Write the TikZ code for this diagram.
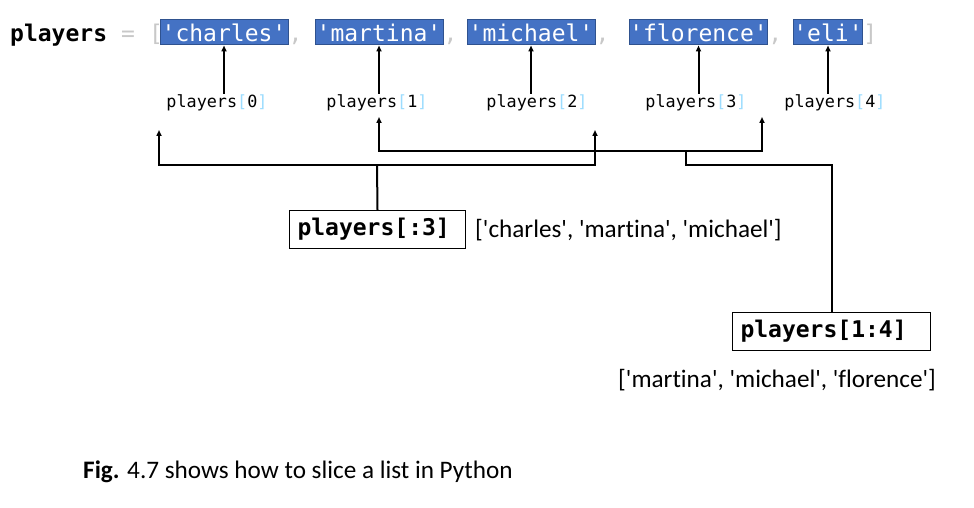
\documentclass[tikz,border=0pt]{standalone}
\usepackage{fontspec}
\setmainfont{Carlito}[Ligatures={TeXOff,NoCommon}]
\setmonofont{DejaVu Sans Mono}
\usetikzlibrary{arrows.meta}

\definecolor{listblue}{RGB}{68,114,196}
\definecolor{listedge}{RGB}{47,82,143}
\definecolor{punctgray}{RGB}{200,200,200}
\definecolor{idxblue}{RGB}{156,220,254}

% players[i] with the brackets tinted
\newcommand{\playeridx}[1]{players\textcolor{idxblue}{[}#1\textcolor{idxblue}{]}}

\begin{document}
\begin{tikzpicture}[x=1pt,y=-1pt,
  every node/.style={inner sep=0pt},
  code/.style={font=\fontsize{23}{23}\selectfont\ttfamily},
  listitem/.style={code, text=white, fill=listblue, draw=listedge, line width=1pt,
    anchor=base, text height=22pt, text depth=3pt, minimum width=#1},
  punct/.style={code, text=punctgray, anchor=base},
  idxlabel/.style={font=\fontsize{16.8}{16.8}\selectfont\ttfamily, anchor=base,
    text height=14pt, text depth=4pt},
  slicebox/.style={font=\fontsize{23}{23}\selectfont\ttfamily\bfseries, draw=black,
    line width=1pt, fill=white, anchor=north west, align=left, inner xsep=8pt,
    minimum height=38pt, text width=#1},
  result/.style={font=\fontsize{25.2}{25.2}\selectfont, anchor=west},
  tip/.style={line width=2pt, -{Triangle[length=6pt,width=5pt]}},
  bothtips/.style={line width=2pt, {Triangle[length=6pt,width=5pt]}-{Triangle[length=6pt,width=5pt]}},
  plain/.style={line width=2pt}
]
\useasboundingbox (0,0) rectangle (974,508);

% the list literal
\node[code, font=\fontsize{23}{23}\selectfont\ttfamily\bfseries, anchor=base west] (name) at (10,42) {players};
\node[punct] (eq) at (128,42) {=};
\node[punct] (open) at (156,42) {[};
\node[listitem=128pt] (charles) at (224,42) {'charles'};
\node[listitem=128pt] (martina) at (379,42) {'martina'};
\node[listitem=128pt] (michael) at (531,42) {'michael'};
\node[listitem=137pt] (florence) at (698.5,42) {'florence'};
\node[listitem=68pt] (eli) at (828,42) {'eli'};
\node[punct, anchor=base west] (c1) at (charles.base east) {,};
\node[punct, anchor=base west] (c2) at (martina.base east) {,};
\node[punct, anchor=base west] (c3) at (michael.base east) {,};
\node[punct, anchor=base west] (c4) at (florence.base east) {,};
\node[punct, anchor=base west] (close) at (eli.base east) {]};

% index labels
\node[idxlabel] (l0) at (217,108) {\playeridx{0}};
\node[idxlabel] (l1) at (377,108) {\playeridx{1}};
\node[idxlabel] (l2) at (537,108) {\playeridx{2}};
\node[idxlabel] (l3) at (696,108) {\playeridx{3}};
\node[idxlabel] (l4) at (835,108) {\playeridx{4}};

\draw[tip] (charles.south |- l0.north) -- (charles.south);
\draw[tip] (martina.south |- l1.north) -- (martina.south);
\draw[tip] (michael.south |- l2.north) -- (michael.south);
\draw[tip] (florence.south |- l3.north) -- (florence.south);
\draw[tip] (eli.south |- l4.north) -- (eli.south);

% slice boxes and their results
\node[slicebox=160pt] (s3) at (289,210) {players[:3]};
\node[result] (r3) at (475,230) {['charles', 'martina', 'michael']};
\node[slicebox=182pt] (s4) at (732,312) {players[1:4]};
\node[result] (r4) at (618,380) {['martina', 'michael', 'florence']};

% bracket for players[:3]
\coordinate (a0) at (159,130);
\coordinate (a2) at (595,130);
\coordinate (j3) at (377,165);
\draw[bothtips] (a0) |- (j3) -| (a2);
\draw[plain] (s3.north) -- (j3);

% bracket for players[1:4]
\coordinate (a1) at (379,117);
\coordinate (a3) at (762,117);
\coordinate (j4) at (686,151);
\coordinate (k4) at (686,165);
\draw[bothtips] (a1) |- (j4) -| (a3);
\draw[plain] (j4) -- (k4) -| (s4.north);

% caption
\node[font=\fontsize{25.2}{25.2}\selectfont, anchor=base west] (caption) at (83,478)
  {\textbf{Fig.} 4.7 shows how to slice a list in Python};
\end{tikzpicture}
\end{document}
